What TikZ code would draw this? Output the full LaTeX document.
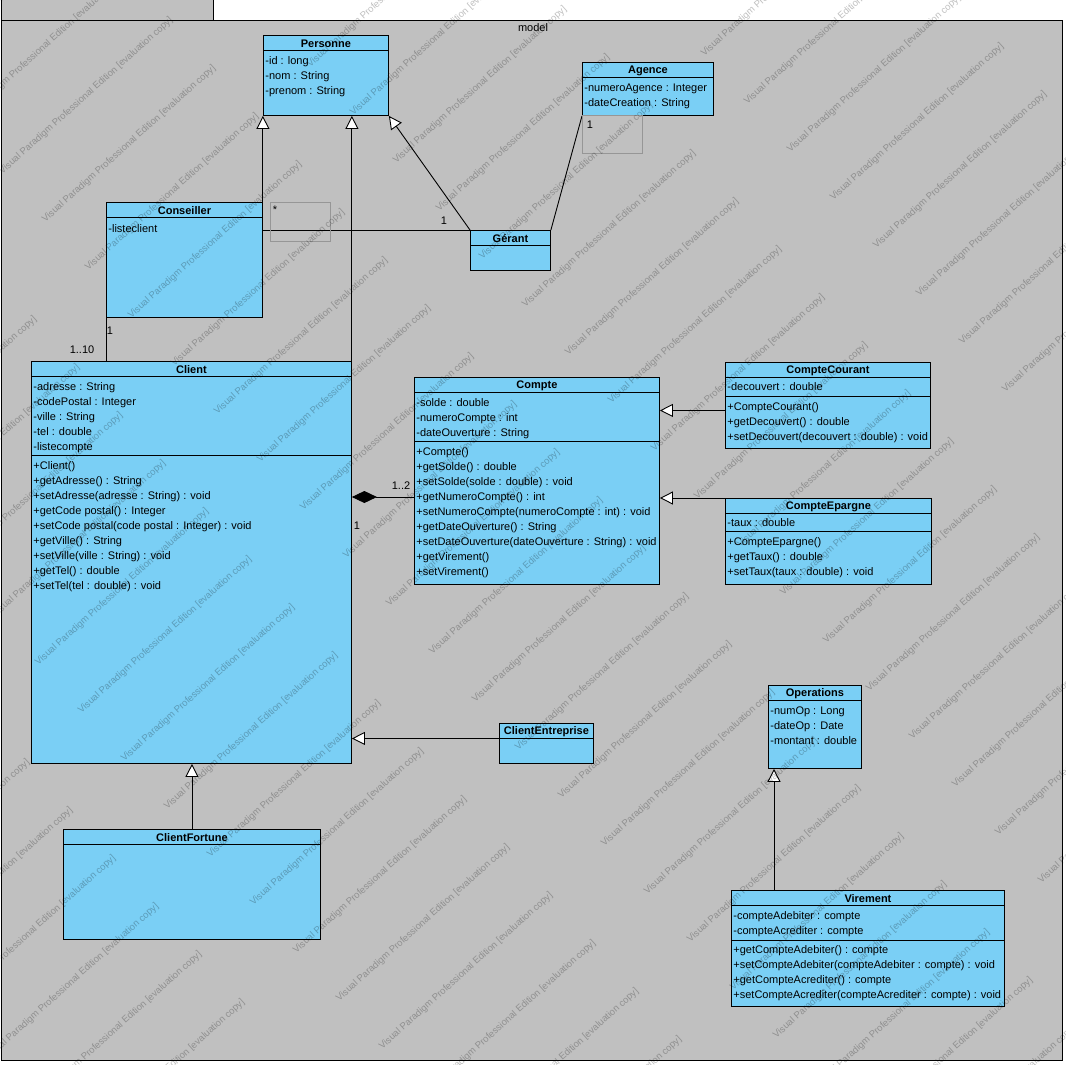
\documentclass[tikz,border=0pt]{standalone}
\usepackage{fontspec}
\setmainfont{Liberation Sans}
\usetikzlibrary{arrows.meta,positioning}

\definecolor{framegray}{RGB}{192,192,192}
\definecolor{classblue}{RGB}{122,207,245}
\definecolor{labelgray}{RGB}{150,150,150}

\tikzset{
  classbox/.style={draw, fill=classblue, anchor=north west, inner sep=0pt, line width=0.9pt},
  classname/.style={font=\bfseries\fontsize{11}{13}\selectfont, anchor=north, inner sep=0pt, minimum height=15pt, yshift=-1pt},
  member/.style={font=\fontsize{11}{13}\selectfont, anchor=west, inner sep=0pt, text height=8pt, text depth=2.5pt, yshift=-2pt},
  lbl/.style={font=\fontsize{11}{13}\selectfont, inner sep=0pt},
  lblbox/.style={draw=labelgray, line width=0.6pt, anchor=north west, inner sep=0pt},
  inherit/.style={-{Triangle[length=13pt, width=13pt, fill=white]}},
  compo/.style={{Diamond[length=25pt, width=12pt]}-},
  wmark/.style={font=\fontsize{9.5}{11}\selectfont, rotate=42, text=black, opacity=0.25, inner sep=0pt}
}

% box with title band: name, x, y, width, height, title
\newcommand{\umlclass}[6]{%
  \node[classbox, minimum width=#4pt, minimum height=#5pt] (#1) at (#2,#3) {};
  \node[classname] (#1-name) at (#1.north) {#6};
  \draw (#1.north west) ++(0,15) -- ++(#4,0);
}
% one line per member: name, x, first y, list
\newcommand{\umlmembers}[4]{%
  \foreach \m [count=\i from 0] in {#4}
    \node[member] (#1-\i) at (#2, #3+15*\i) {\m};
}

\begin{document}
\begin{tikzpicture}[x=1pt, y=-1pt, line width=0.9pt]
\useasboundingbox (0,0) rectangle (1066,1065);
\fill[white] (0,0) rectangle (1066,1065);

% package frame
\draw[fill=framegray] (1,20) rectangle (1062,1060);
\draw[fill=framegray] (1,-1) rectangle (213,20);
\node[lbl] (model) at (533,28) {model};

% classes
\umlclass{personne}{263}{35}{125}{80}{Personne}
\umlmembers{personne}{265}{60}{-id : long, -nom : String, -prenom : String}

\umlclass{agence}{582}{62}{131}{53}{Agence}
\umlmembers{agence}{584}{87}{-numeroAgence : Integer, -dateCreation : String}

\umlclass{conseiller}{106}{202}{156}{115}{Conseiller}
\umlmembers{conseiller}{108}{228}{-listeclient}

\umlclass{gerant}{470}{230}{80}{40}{Gérant}

\umlclass{client}{31}{361}{320}{402}{Client}
\umlmembers{client}{33}{386}{-adresse : String, -codePostal : Integer, -ville : String, -tel : double, -listecompte}
\draw (31,455) -- ++(320,0);
\umlmembers{client-op}{33}{465}{+Client(), +getAdresse() : String, +setAdresse(adresse : String) : void, +getCode postal() : Integer, +setCode postal(code postal : Integer) : void, +getVille() : String, +setVille(ville : String) : void, +getTel() : double, +setTel(tel : double) : void}

\umlclass{compte}{414}{377}{245}{207}{Compte}
\umlmembers{compte}{416}{402}{-solde : double, -numeroCompte : int, -dateOuverture : String}
\draw (414,441) -- ++(245,0);
\umlmembers{compte-op}{416}{451}{+Compte(), +getSolde() : double, +setSolde(solde : double) : void, +getNumeroCompte() : int, +setNumeroCompte(numeroCompte : int) : void, +getDateOuverture() : String, +setDateOuverture(dateOuverture : String) : void, +getVirement(), +setVirement()}

\umlclass{courant}{725}{362}{205}{86}{CompteCourant}
\umlmembers{courant}{727}{386}{-decouvert : double}
\draw (725,396) -- ++(205,0);
\umlmembers{courant-op}{727}{406}{+CompteCourant(), +getDecouvert() : double, +setDecouvert(decouvert : double) : void}

\umlclass{epargne}{725}{498}{206}{86}{CompteEpargne}
\umlmembers{epargne}{727}{522}{-taux : double}
\draw (725,531) -- ++(206,0);
\umlmembers{epargne-op}{727}{541}{+CompteEpargne(), +getTaux() : double, +setTaux(taux : double) : void}

\umlclass{entreprise}{499}{723}{94}{40}{ClientEntreprise}
\umlclass{fortune}{63}{829}{257}{110}{ClientFortune}

\umlclass{operations}{768}{685}{93}{83}{Operations}
\umlmembers{operations}{770}{710}{-numOp : Long, -dateOp : Date, -montant : double}

\umlclass{virement}{731}{890}{273}{116}{Virement}
\umlmembers{virement}{733}{915}{-compteAdebiter : compte, -compteAcrediter : compte}
\draw (731,940) -- ++(273,0);
\umlmembers{virement-op}{733}{949}{+getCompteAdebiter() : compte, +setCompteAdebiter(compteAdebiter : compte) : void, +getCompteAcrediter() : compte, +setCompteAcrediter(compteAcrediter : compte) : void}

% generalizations
\draw[inherit] (conseiller.north east) -- (conseiller.north east |- personne.south);
\draw[inherit] (client.north east) -- (client.north east |- personne.south);
\draw[inherit] (gerant.north west) -- (personne.south east);
\draw[inherit] ([yshift=-5pt]courant.west) -- ([yshift=-5pt]courant.west -| compte.east);
\draw[inherit] (epargne.north west) -- (epargne.north west -| compte.east);
\draw[inherit] ([yshift=5pt]entreprise.west) -- ([yshift=5pt]entreprise.west -| client.east);
\draw[inherit] (fortune.north) -- (fortune.north |- client.south);
\coordinate (op-foot) at ([xshift=6pt]operations.south west);
\draw[inherit] (op-foot |- virement.north) -- (op-foot);

% associations
\draw (conseiller.east |- gerant.north west) -- (gerant.north west);
\draw (gerant.north east) -- (agence.south west);
\draw (conseiller.south west) -- (conseiller.south west |- client.north);
\coordinate (compte-link) at (414,497);
\draw[compo] (client.east |- compte-link) -- (compte-link);

% multiplicities
\node[lblbox, minimum width=60pt, minimum height=39pt] (star-box) at (270,202) {};
\node[lbl] (star) at (275,210) {*};
\node[lbl] (gerant-one) at (444,221) {1};
\node[lblbox, minimum width=60pt, minimum height=38pt] (agence-box) at (582,115) {};
\node[lbl] (agence-one) at (590,125) {1};
\node[lbl] (cons-one) at (110,331) {1};
\node[lbl] (cons-ten) at (82,350) {1..10};
\node[lbl] (compte-two) at (401,486) {1..2};
\node[lbl] (client-one) at (357,526) {1};

% evaluation watermark, only where it shows on the page
\foreach \a in {-3,...,2}
  \foreach \b in {0,...,23}{
    \pgfmathsetmacro\wx{394*\a+43*\b}
    \pgfmathsetmacro\wy{-11*\a+48*\b}
    \pgfmathparse{and(\wx>-70, and(\wx<1130, \wy<1120)) ? 1 : 0}
    \ifdim\pgfmathresult pt>0.5pt
      \node[wmark] (wm-\a-\b) at (\wx,\wy) {Visual Paradigm Professional Edition [evaluation copy]};
    \fi
  }
\end{tikzpicture}
\end{document}
